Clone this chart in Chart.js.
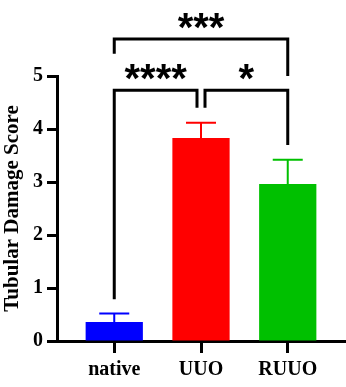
<!DOCTYPE html>
<html>
<head>
<meta charset="utf-8">
<script src="https://cdn.jsdelivr.net/npm/chart.js@4"></script>
<style>
  html, body { margin: 0; padding: 0; background: #fff; }
  #wrap { width: 346px; height: 387px; }
</style>
</head>
<body>
<div id="wrap"><canvas id="damageChart" width="346" height="387"></canvas></div>
<script>
// --- Data ---
const groups = ["native", "UUO", "RUUO"];
const means = [0.36, 3.83, 2.96];
const sems = [0.16, 0.29, 0.46];
const barColors = ["#0000FF", "#FF0000", "#00C000"];
const yTicks = [0, 1, 2, 3, 4, 5];

// significance comparisons (group indices + label)
const comparisons = [
    { from: 0, to: 1, label: "****" },
    { from: 1, to: 2, label: "*" },
    { from: 0, to: 2, label: "***" }
];

const serif = "'Liberation Serif', 'Times New Roman', serif";

// --- Error bars (upward only, Prism style) ---
const errorBars = {
    id: 'errorBars',
    afterDatasetsDraw(chart) {
        const ctx = chart.ctx;
        const y = chart.scales.y;
        const meta = chart.getDatasetMeta(0);
        ctx.save();
        meta.data.forEach((bar, i) => {
            const top = y.getPixelForValue(means[i] + sems[i]);
            ctx.strokeStyle = barColors[i];
            ctx.lineWidth = 2;
            ctx.beginPath();
            ctx.moveTo(bar.x, bar.y);
            ctx.lineTo(bar.x, top);
            ctx.moveTo(bar.x - 15, top);
            ctx.lineTo(bar.x + 15, top);
            ctx.stroke();
        });
        ctx.restore();
    }
};

// --- Significance brackets ---
const brackets = {
    id: 'brackets',
    afterDraw(chart) {
        const ctx = chart.ctx;
        const x = chart.scales.x;
        const y = chart.scales.y;
        // bracket heights in data units: [top, left leg end, right leg end]
        const levels = [
            { top: 4.73, a: 0.79, b: 4.40, inA: 0, inB: -4 },
            { top: 4.73, a: 4.40, b: 3.70, inA: 4, inB: 0 },
            { top: 5.70, a: 5.42, b: 5.00, inA: 0, inB: 0 }
        ];
        ctx.save();
        ctx.strokeStyle = '#000';
        ctx.fillStyle = '#000';
        ctx.lineWidth = 3;
        ctx.lineCap = 'butt';
        ctx.lineJoin = 'miter';
        ctx.font = "bold 40px 'Liberation Sans', Arial, sans-serif";
        ctx.textAlign = 'center';
        comparisons.forEach((c, i) => {
            const lv = levels[i];
            const x1 = x.getPixelForValue(c.from) + lv.inA;
            const x2 = x.getPixelForValue(c.to) + lv.inB;
            const yt = y.getPixelForValue(lv.top);
            ctx.beginPath();
            ctx.moveTo(x1, y.getPixelForValue(lv.a));
            ctx.lineTo(x1, yt);
            ctx.lineTo(x2, yt);
            ctx.lineTo(x2, y.getPixelForValue(lv.b));
            ctx.stroke();
            const m = ctx.measureText(c.label);
            const cy = yt - 18;
            const base = cy + (m.actualBoundingBoxAscent - m.actualBoundingBoxDescent) / 2;
            ctx.fillText(c.label, (x1 + x2) / 2, base);
        });
        ctx.restore();
    }
};

new Chart(document.getElementById('damageChart').getContext('2d'), {
    type: 'bar',
    data: {
        datasets: [{
            data: means.map((v, i) => ({ x: i, y: v })),
            backgroundColor: barColors,
            borderWidth: 0,
            categoryPercentage: 1,
            barPercentage: 0.66
        }]
    },
    options: {
        responsive: false,
        animation: false,
        layout: { padding: { top: 76, right: 1, left: 0, bottom: 0 } },
        plugins: { legend: { display: false }, tooltip: { enabled: false } },
        scales: {
            x: {
                type: 'linear',
                offset: false,
                min: -0.66,
                max: 2.66,
                afterBuildTicks: s => { s.ticks = groups.map((g, i) => ({ value: i })); },
                afterFit: s => { s.height = 46; },
                ticks: {
                    autoSkip: false,
                    maxRotation: 0,
                    padding: 5,
                    color: '#000',
                    font: { family: serif, size: 20, weight: 'bold' },
                    callback: v => groups[v]
                },
                grid: { offset: false, drawOnChartArea: false, drawTicks: true, tickLength: 12, tickWidth: 3, color: '#000' },
                border: { display: true, color: '#000', width: 3 }
            },
            y: {
                min: 0,
                max: 5,
                afterBuildTicks: s => { s.ticks = yTicks.map(v => ({ value: v })); },
                afterFit: s => { s.width = 57; },
                ticks: {
                    padding: 4,
                    color: '#000',
                    font: { family: serif, size: 20, weight: 'bold' }
                },
                grid: { drawOnChartArea: false, drawTicks: true, tickLength: 10, tickWidth: 3, color: '#000' },
                border: { display: true, color: '#000', width: 3 },
                title: {
                    display: true,
                    text: 'Tubular Damage Score',
                    color: '#000',
                    padding: { top: 0, bottom: 0 },
                    font: { family: serif, size: 21, weight: 'bold' }
                }
            }
        }
    },
    plugins: [errorBars, brackets]
});
</script>
</body>
</html>
